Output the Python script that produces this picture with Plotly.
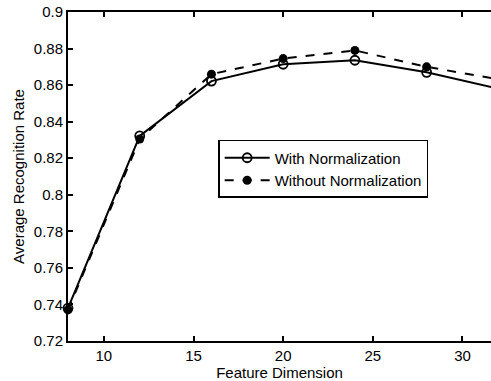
import plotly.graph_objects as go

dims = [8, 12, 16, 20, 24, 28, 32]
with_norm = [0.738, 0.8322, 0.8622, 0.8714, 0.8736, 0.8670, 0.8580]
without_norm = [0.737, 0.8305, 0.8660, 0.8745, 0.8790, 0.8700, 0.8632]
xticks = [10, 15, 20, 25, 30]
yticks = [0.72, 0.74, 0.76, 0.78, 0.8, 0.82, 0.84, 0.86, 0.88, 0.9]
ytick_text = ["0.72", "0.74", "0.76", "0.78", "0.8", "0.82", "0.84", "0.86", "0.88", "0.9"]

font = "Liberation Sans, Arial, Helvetica, sans-serif"

fig = go.Figure()
fig.add_trace(go.Scatter(
    x=dims, y=with_norm, name="With Normalization", mode="lines+markers",
    line=dict(color="black", width=2, dash="solid"),
    marker=dict(symbol="circle-open", size=9, color="black", line=dict(width=1.8)),
    cliponaxis=False,
))
fig.add_trace(go.Scatter(
    x=dims, y=without_norm, name="Without Normalization", mode="lines+markers",
    line=dict(color="black", width=2, dash="dash"),
    marker=dict(symbol="circle", size=9, color="black"),
    cliponaxis=False,
))

fig.update_layout(
    width=491, height=381,
    margin=dict(l=68, r=0, t=12, b=40),
    paper_bgcolor="white", plot_bgcolor="white",
    font=dict(family=font, size=15, color="black"),
    showlegend=True,
    legend=dict(
        x=0.355, y=0.611, xanchor="left", yanchor="top",
        bgcolor="white", bordercolor="black", borderwidth=1.5,
        font=dict(size=15, color="black"),
        tracegroupgap=0, itemwidth=45,
    ),
    xaxis=dict(
        range=[8, 31.59], tickvals=xticks, ticks="inside", ticklen=5,
        tickwidth=1.5, tickcolor="black",
        showline=True, linecolor="black", linewidth=2, mirror="ticks",
        showgrid=False, zeroline=False,
        title=dict(text="Feature Dimension", font=dict(size=15), standoff=2),
        tickfont=dict(size=15),
    ),
    yaxis=dict(
        range=[0.72, 0.9], tickvals=yticks, ticktext=ytick_text,
        ticks="inside", ticklen=5, tickwidth=1.5, tickcolor="black",
        showline=True, linecolor="black", linewidth=2, mirror=False,
        showgrid=False, zeroline=False,
        title=dict(text="Average Recognition Rate", font=dict(size=15), standoff=6),
        tickfont=dict(size=15),
    ),
)

fig.write_html("out.html")
